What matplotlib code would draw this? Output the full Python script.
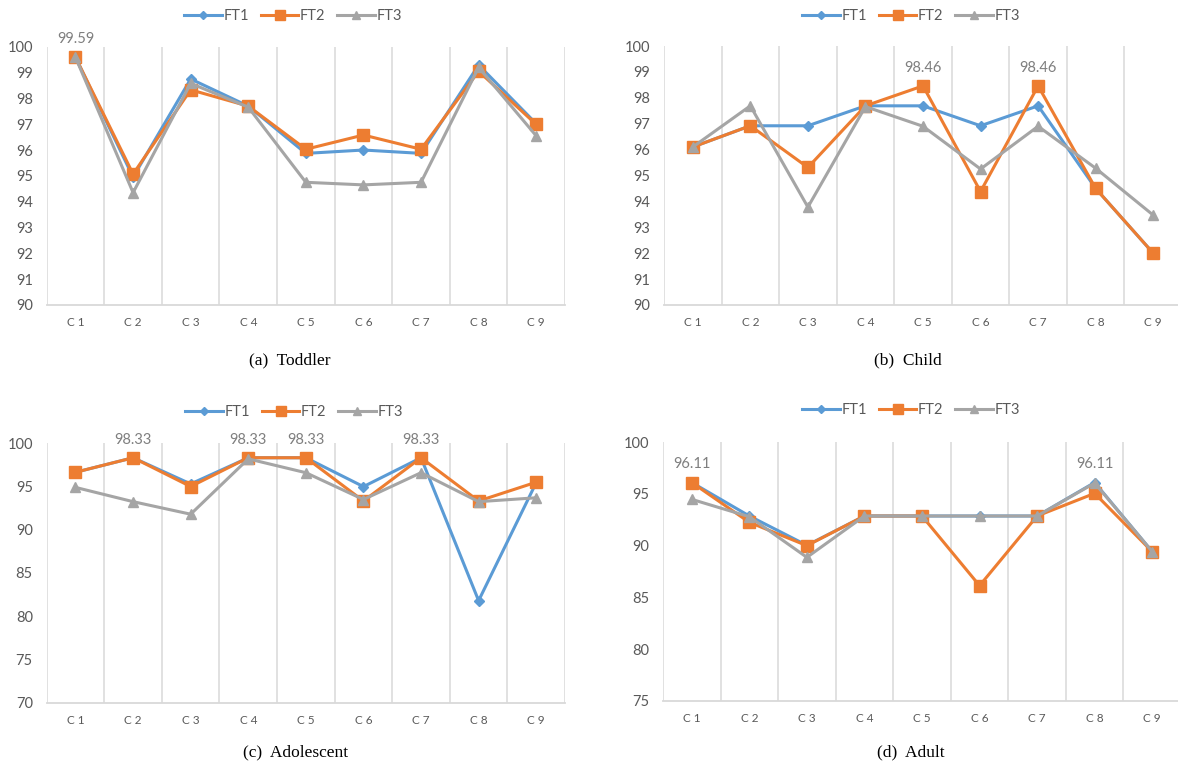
import numpy as np
import matplotlib
matplotlib.use('Agg')
import matplotlib.pyplot as plt

categories = ['C1', 'C2', 'C3', 'C4', 'C5', 'C6', 'C7', 'C8', 'C9']
series_names = ['FT1', 'FT2', 'FT3']

toddler_ft1 = [99.59, 94.95, 98.75, 97.70, 95.87, 96.00, 95.87, 99.29, 97.02]
toddler_ft2 = [99.59, 95.07, 98.33, 97.70, 96.03, 96.58, 96.03, 99.05, 96.99]
toddler_ft3 = [99.59, 94.35, 98.58, 97.66, 94.75, 94.65, 94.75, 99.20, 96.55]

child_ft1 = [96.10, 96.92, 96.92, 97.69, 97.69, 96.92, 97.69, 94.50, 92.00]
child_ft2 = [96.10, 96.92, 95.31, 97.69, 98.46, 94.38, 98.46, 94.50, 92.00]
child_ft3 = [96.10, 97.69, 93.78, 97.66, 96.90, 95.25, 96.90, 95.28, 93.47]

adol_ft1 = [96.65, 98.33, 95.30, 98.33, 98.33, 94.99, 98.33, 81.80, 95.45]
adol_ft2 = [96.65, 98.33, 95.00, 98.33, 98.33, 93.33, 98.33, 93.33, 95.50]
adol_ft3 = [94.90, 93.25, 91.80, 98.20, 96.60, 93.50, 96.60, 93.25, 93.70]

adult_ft1 = [96.11, 92.87, 90.03, 92.87, 92.87, 92.87, 92.87, 96.11, 89.42]
adult_ft2 = [96.11, 92.26, 90.00, 92.87, 92.87, 86.13, 92.87, 95.06, 89.42]
adult_ft3 = [94.48, 92.80, 88.87, 92.87, 92.87, 92.87, 92.87, 96.06, 89.42]

# label value, category indices that carry it
toddler_labels = (99.59, [0])
child_labels = (98.46, [4, 6])
adol_labels = (98.33, [1, 3, 4, 6])
adult_labels = (96.11, [0, 7])

W, H = 1178, 765
fig = plt.figure(figsize=(W / 100, H / 100), dpi=100)

colors = ['#5B9BD5', '#ED7D31', '#A5A5A5']
markers = ['D', 's', '^']
msizes = [5.5, 8.5, 7.5]
grid_c = '#D9D9D9'
txt_c = '#595959'
ui_font = ['Lato', 'DejaVu Sans']


def fig_box(x0, x1, ytop, ybot):
    return [x0 / W, 1 - ybot / H, (x1 - x0) / W, (ybot - ytop) / H]


panels = [
    dict(box=(46.7, 565, 46.7, 305), ylim=(90, 100), yticks=np.arange(90, 101, 1),
         data=[toddler_ft1, toddler_ft2, toddler_ft3], labels=toddler_labels,
         leg=(293, 16), cap=(290, 360, '(a)  Toddler')),
    dict(box=(664, 1182, 46.0, 305), ylim=(90, 100), yticks=np.arange(90, 101, 1),
         data=[child_ft1, child_ft2, child_ft3], labels=child_labels,
         leg=(911, 16), cap=(908, 360, '(b)  Child')),
    dict(box=(46.7, 565, 443.3, 702.7), ylim=(70, 100), yticks=np.arange(70, 101, 5),
         data=[adol_ft1, adol_ft2, adol_ft3], labels=adol_labels,
         leg=(294, 412), cap=(295.5, 752, '(c)  Adolescent')),
    dict(box=(663, 1181, 442.3, 700.7), ylim=(75, 100), yticks=np.arange(75, 101, 5),
         data=[adult_ft1, adult_ft2, adult_ft3], labels=adult_labels,
         leg=(911, 410), cap=(911, 752, '(d)  Adult')),
]

x = np.arange(len(categories))
for p in panels:
    ax = fig.add_axes(fig_box(*p['box']))
    ax.set_xlim(-0.5, len(categories) - 0.5)
    ax.set_ylim(*p['ylim'])
    for b in np.arange(-0.5, len(categories), 1.0):
        ax.axvline(b, color=grid_c, lw=1.1, zorder=0)
    for s in ['top', 'right', 'left']:
        ax.spines[s].set_visible(False)
    ax.spines['bottom'].set_color(grid_c)
    ax.spines['bottom'].set_linewidth(1.3)
    lines = []
    for vals, c, m, ms, name in zip(p['data'], colors, markers, msizes, series_names):
        ln, = ax.plot(x, vals, color=c, lw=2.2, marker=m, ms=ms, mec=c, mfc=c,
                      label=name, clip_on=False, zorder=3)
        lines.append(ln)
    val, idx = p['labels']
    for i in idx:
        ax.annotate(f'{val:.2f}', (x[i], val), xytext=(0, 8), textcoords='offset points',
                    ha='center', va='bottom', color='#7F7F7F', fontsize=10.5,
                    family=ui_font, annotation_clip=False)
    ax.set_yticks(p['yticks'])
    ax.set_yticklabels([str(int(v)) for v in p['yticks']], family=ui_font,
                       fontsize=10.5, color=txt_c)
    ax.set_xticks(x)
    ax.set_xticklabels([' '.join(c) for c in categories], family=ui_font,
                       fontsize=8.5, color=txt_c)
    ax.tick_params(axis='both', length=0)
    ax.tick_params(axis='y', pad=10)
    ax.tick_params(axis='x', pad=9)

    lx, ly = p['leg']
    fig.legend(handles=lines, loc='center', bbox_to_anchor=(lx / W, 1 - ly / H),
               ncol=3, frameon=False, prop={'family': ui_font, 'size': 10.5},
               labelcolor=txt_c, handlelength=2.6, handletextpad=0.1,
               columnspacing=0.8, markerscale=0.8)

    cx, cy, ctext = p['cap']
    fig.text(cx / W, 1 - cy / H, ctext, ha='center', va='center',
             family=['Liberation Serif', 'DejaVu Serif'], fontsize=12.5, color='black')

fig.savefig('out.png', dpi=100)
